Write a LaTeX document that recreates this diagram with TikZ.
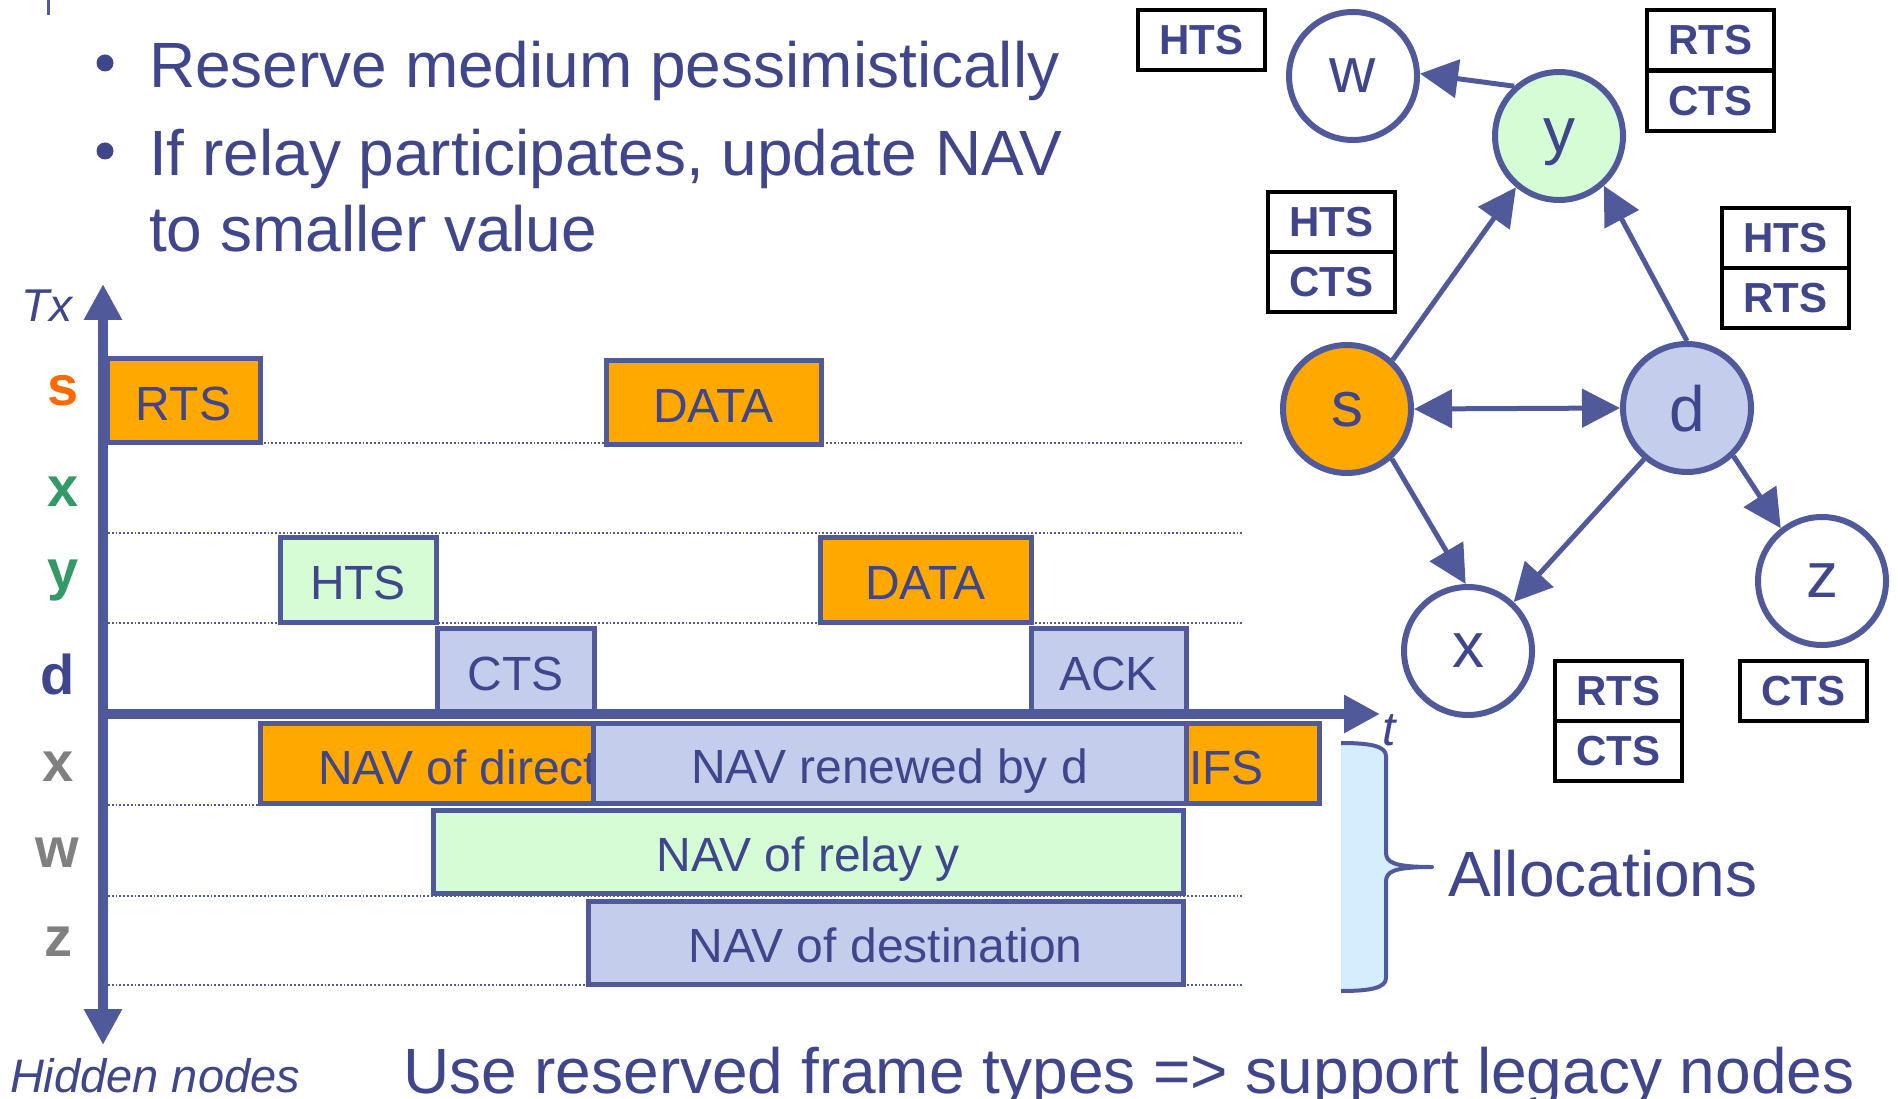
\documentclass[tikz,border=0pt]{standalone}
\usepackage{fontspec}
\setmainfont{Liberation Sans}
\usetikzlibrary{arrows.meta,calc}
\definecolor{bord}{HTML}{505A9B}
\definecolor{tblue}{HTML}{40468C}
\definecolor{org}{HTML}{FFA800}
\definecolor{lgreen}{HTML}{D5FCD5}
\definecolor{lblue}{HTML}{C5CDED}
\definecolor{sorange}{HTML}{FF6A00}
\definecolor{dgreen}{HTML}{339966}
\definecolor{lgray}{HTML}{808080}
\definecolor{bracefill}{HTML}{D5EEFD}
\newcommand{\myfs}[1]{\fontsize{#1}{#1}\selectfont}
\begin{document}
\begin{tikzpicture}[x=1pt,y=-1pt,
  tb/.style={draw=bord,line width=5pt,inner sep=0pt,outer sep=0pt,anchor=north west,text=tblue,font=\myfs{48},text depth=0pt,text height=40pt},
  txt/.style={inner sep=0pt,outer sep=0pt,text=tblue,anchor=base west},
  rl/.style={inner sep=0pt,outer sep=0pt,anchor=base,font=\myfs{56}\bfseries},
  dotl/.style={draw=bord,line width=1.8pt,dash pattern=on 1.8pt off 2pt},
  axisl/.style={draw=bord,line width=10pt},
  gc/.style={circle,draw=bord,line width=6pt,minimum size=128pt,inner sep=0pt,text=tblue,font=\myfs{64},text depth=0pt},
  arr/.style={draw=bord,line width=5pt,-{Triangle[length=38pt,width=38pt]}},
  sb/.style={draw=black,line width=4pt,fill=white,minimum width=127pt,minimum height=60pt,inner sep=0pt,text=tblue,font=\myfs{42}\bfseries}
]
\useasboundingbox (0,0) rectangle (1898,1099);

% small tick top-left
\draw[bord,line width=3pt] (48,0) -- (48,15);

% bullets
\fill[tblue] (105,63) circle (8.5);
\fill[tblue] (105,151) circle (8.5);
\node[txt,font=\myfs{64}] (b1) at (149,88) {Reserve medium pessimistically};
\node[txt,font=\myfs{64}] (b2) at (149,176) {If relay participates, update NAV};
\node[txt,font=\myfs{64}] (b3) at (149,252) {to smaller value};

% grid lines
\foreach \yy in {443,533,623,805,896,985}
  \draw[dotl] (108,\yy) -- (1244,\yy);

% upper timing boxes
\node[tb,fill=org,minimum width=153pt,minimum height=84pt] (rts) at (107,358) {RTS};
\node[tb,fill=org,minimum width=215pt,minimum height=84pt] (data1) at (606,360) {DATA};
\node[tb,fill=lgreen,minimum width=156pt,minimum height=85pt] (hts) at (280,537) {HTS};
\node[tb,fill=org,minimum width=211pt,minimum height=85pt] (data2) at (820,537) {DATA};
\node[tb,fill=lblue,minimum width=157pt,minimum height=84pt] (cts) at (437,628) {CTS};
\node[tb,fill=lblue,minimum width=155pt,minimum height=84pt] (ack) at (1031,628) {ACK};

% lower NAV boxes
\node[tb,fill=org,minimum width=1059pt,minimum height=80pt] (navd) at (260,723) {};
\node[txt,font=\myfs{48}] (navdt) at (318,784) {NAV of direct};
\node[txt,font=\myfs{48}] (ifs) at (1189,784) {IFS};
\node[tb,fill=lblue,minimum width=593pt,minimum height=80pt] (navr) at (593,723) {NAV renewed by d};
\node[tb,fill=lgreen,minimum width=750pt,minimum height=83pt] (navy) at (433,810) {NAV of relay y};
\node[tb,fill=lblue,minimum width=595pt,minimum height=83pt] (navdst) at (588,901) {NAV of destination};

% axes
\coordinate (o) at (103,714);
\coordinate (ytop) at (103,284);
\coordinate (ybot) at (103,1045);
\coordinate (xend) at (1380,714);
\coordinate (o1) at (103,709);
\coordinate (o2) at (98,714);
\draw[axisl,-{Triangle[length=36pt,width=36pt]}] (o) -- (ytop);
\draw[axisl,-{Triangle[length=36pt,width=36pt]}] (o1) -- (ybot);
\draw[axisl,-{Triangle[length=36pt,width=36pt]}] (o2) -- (xend);

% axis labels
\node[txt,font=\myfs{46}\itshape] (tx) at (21,321) {Tx};
\node[txt,font=\myfs{48}\itshape] (tl) at (1382,745) {t};
\node[txt,font=\myfs{47}\itshape] (hid) at (10,1092) {Hidden nodes};

% row labels
\node[rl,text=sorange] (ls) at (63,405) {s};
\node[rl,text=dgreen] (lx) at (63,506) {x};
\node[rl,text=dgreen] (ly) at (63,589) {y};
\node[rl,text=tblue] (ld) at (58,694) {d};
\node[rl,text=lgray] (lx2) at (58,781) {x};
\node[rl,text=lgray] (lw) at (57,867) {w};
\node[rl,text=lgray] (lz) at (58,956) {z};

% brace
\fill[bracefill] (1341,743) .. controls (1370,743) and (1386,746) .. (1386,756) -- (1386,852)
  .. controls (1386,862) and (1392,867) .. (1432,867)
  .. controls (1392,867) and (1386,872) .. (1386,882) -- (1386,978)
  .. controls (1386,988) and (1370,991) .. (1341,991) -- cycle;
\draw[bord,line width=4pt,line join=round] (1341,743) .. controls (1370,743) and (1386,746) .. (1386,756) -- (1386,852)
  .. controls (1386,862) and (1392,867) .. (1432,867)
  .. controls (1392,867) and (1386,872) .. (1386,882) -- (1386,978)
  .. controls (1386,988) and (1370,991) .. (1341,991);
\node[txt,font=\myfs{64}] (alloc) at (1448,896) {Allocations};

% bottom line
\node[txt,font=\myfs{64}] (bottom) at (403,1093) {Use reserved frame types => support legacy nodes};

% graph
\node[gc,fill=white] (w) at (1353,76) {w};
\node[gc,fill=lgreen] (y) at (1559,136) {y};
\node[gc,fill=org] (s) at (1347,409) {s};
\node[gc,fill=lblue] (d) at (1687,408) {d};
\node[gc,fill=white] (x) at (1468,651) {x};
\node[gc,fill=white] (z) at (1822,581) {z};

\draw[arr] (y.132) -- (w.2);
\draw[arr] (s.47) -- (y.-130);
\draw[arr] (d.north) -- (y.-48);
\draw[arr,{Triangle[length=38pt,width=38pt]}-{Triangle[length=38pt,width=38pt]}] (s.east) -- (d.west);
\draw[arr] (s.-48) -- (x.92);
\draw[arr] (d.-130) -- (x.47);
\draw[arr] (d.-46) -- (z.128);

% small frame boxes
\node[sb] (hw) at (1201,40) {HTS};
\node[sb] (yr) at (1710,40) {RTS};
\node[sb] (yc) at (1710,101) {CTS};
\node[sb] (sh) at (1331,222) {HTS};
\node[sb] (sc) at (1331,282) {CTS};
\node[sb] (dh) at (1785,238) {HTS};
\node[sb] (dr) at (1785,298) {RTS};
\node[sb] (xr) at (1618,691) {RTS};
\node[sb] (xc) at (1618,751) {CTS};
\node[sb] (zc) at (1803,691) {CTS};
\end{tikzpicture}
\end{document}
